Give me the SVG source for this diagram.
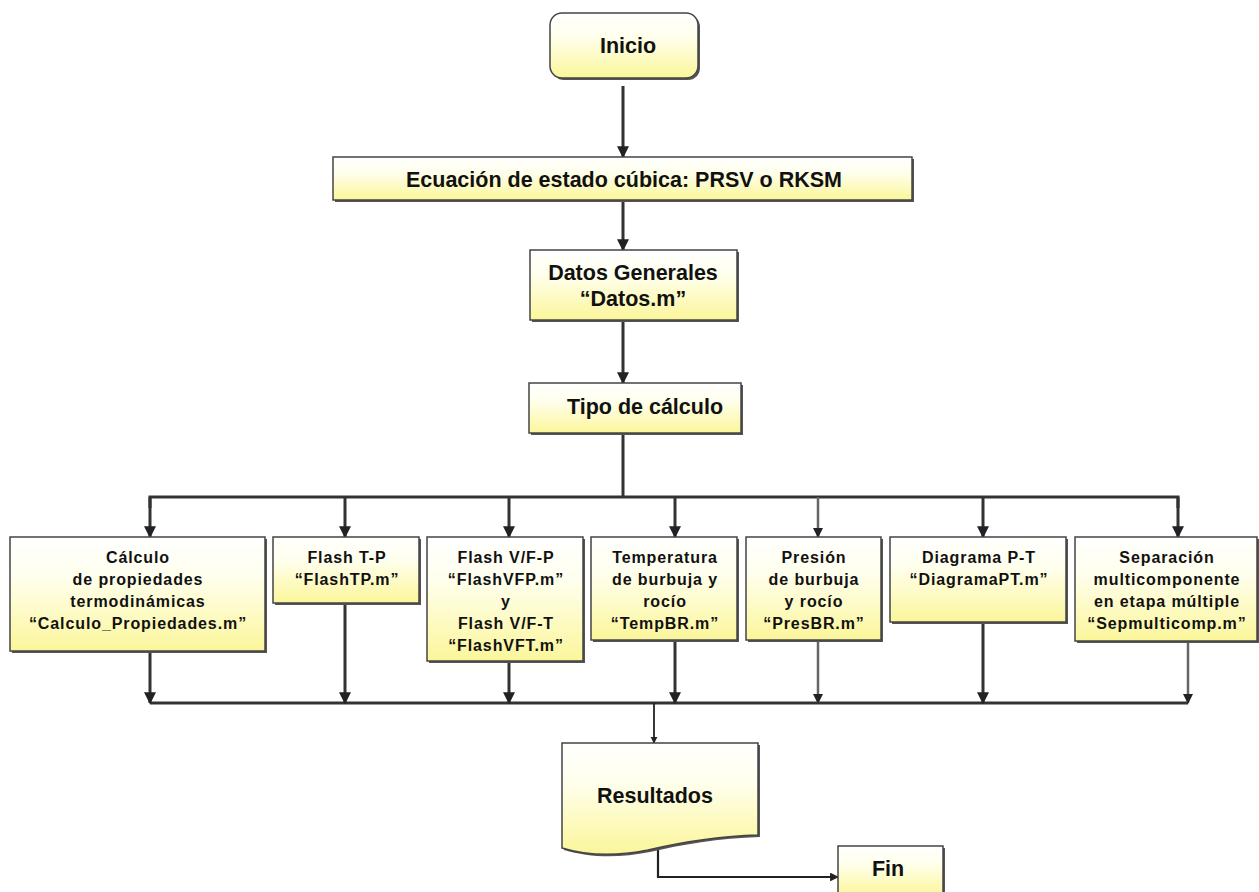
<svg xmlns="http://www.w3.org/2000/svg" width="1259" height="892" viewBox="0 0 1259 892">
<defs>
<linearGradient id="yg" x1="0" y1="0" x2="0" y2="1">
<stop offset="0" stop-color="#ffffff"/>
<stop offset="0.35" stop-color="#ffffee"/>
<stop offset="1" stop-color="#fbf69a"/>
</linearGradient>
<marker id="ah" viewBox="0 0 10 10" refX="9" refY="5" markerWidth="4" markerHeight="4" orient="auto" markerUnits="strokeWidth">
<path d="M0,0 L10,5 L0,10 z" fill="#222"/>
</marker>
</defs>
<style>
.box{fill:url(#yg);stroke:#444;stroke-width:1.5}
.sh{fill:#555}
.t{font-family:"Liberation Sans",Arial,sans-serif;font-weight:bold;fill:#111;text-anchor:middle}
.big{font-size:21.5px}
.sm{font-size:16px;letter-spacing:0.9px}
.c{fill:none;stroke:#333;stroke-width:3}
.ca{fill:none;stroke:#333;stroke-width:3;marker-end:url(#ah)}
.cl{fill:none;stroke:#666;stroke-width:2.5;marker-end:url(#ah)}
.thin{fill:none;stroke:#222;stroke-width:1.8;marker-end:url(#ah)}
</style>
<rect width="1259" height="892" fill="#ffffff"/>

<g id="connectors">
<line class="ca" x1="623" y1="86" x2="623" y2="157"/>
<line class="ca" x1="623" y1="201" x2="623" y2="250"/>
<line class="ca" x1="623" y1="321" x2="623" y2="383"/>
<line class="c" x1="623" y1="434" x2="623" y2="497"/>
<polyline class="c" points="150,508 150,497 1178,497 1178,508"/>
<line class="ca" x1="150" y1="497" x2="150" y2="537"/>
<line class="ca" x1="345" y1="497" x2="345" y2="537"/>
<line class="ca" x1="509" y1="497" x2="509" y2="537"/>
<line class="ca" x1="675" y1="497" x2="675" y2="537"/>
<line class="cl" x1="818" y1="497" x2="818" y2="537"/>
<line class="ca" x1="983" y1="497" x2="983" y2="537"/>
<line class="ca" x1="1178" y1="497" x2="1178" y2="537"/>
<line class="c" x1="150" y1="703" x2="1188" y2="703"/>
<line class="ca" x1="150" y1="652" x2="150" y2="703"/>
<line class="ca" x1="345" y1="604" x2="345" y2="703"/>
<line class="ca" x1="509" y1="662" x2="509" y2="703"/>
<line class="ca" x1="675" y1="641" x2="675" y2="703"/>
<line class="cl" x1="818" y1="641" x2="818" y2="703"/>
<line class="ca" x1="983" y1="623" x2="983" y2="703"/>
<line class="cl" x1="1188" y1="642" x2="1188" y2="703"/>
<line class="thin" x1="654" y1="703" x2="654" y2="743"/>
<polyline class="thin" points="658,850 658,877 838,877" style="stroke-width:2.2"/>
</g>

<g id="inicio">
<rect x="552" y="15" width="148" height="65" rx="12" class="sh"/>
<rect x="550" y="13" width="148" height="65" rx="12" class="box"/>
<text class="t big" x="628" y="53">Inicio</text>
</g>

<g id="ecuacion">
<rect x="335" y="159" width="579" height="43" class="sh"/>
<rect x="333" y="157" width="579" height="43" class="box"/>
<text class="t big" x="624" y="187">Ecuación de estado cúbica: PRSV o RKSM</text>
</g>

<g id="datos">
<rect x="532" y="252" width="207" height="70" class="sh"/>
<rect x="530" y="250" width="207" height="70" class="box"/>
<text class="t big" x="633" y="280">Datos Generales</text>
<text class="t big" x="633" y="306">“Datos.m”</text>
</g>

<g id="tipo">
<rect x="531" y="385" width="212" height="50" class="sh"/>
<rect x="529" y="383" width="212" height="50" class="box"/>
<text class="t big" x="645" y="414">Tipo de cálculo</text>
</g>

<g id="calculo">
<rect x="12" y="539" width="255" height="114" class="sh"/>
<rect x="10" y="537" width="255" height="114" class="box"/>
<text class="t sm" x="138" y="563">Cálculo</text>
<text class="t sm" x="138" y="585">de propiedades</text>
<text class="t sm" x="138" y="607">termodinámicas</text>
<text class="t sm" x="138" y="629">“Calculo_Propiedades.m”</text>
</g>

<g id="flashtp">
<rect x="275" y="539" width="146" height="66" class="sh"/>
<rect x="273" y="537" width="146" height="66" class="box"/>
<text class="t sm" x="347" y="563">Flash T-P</text>
<text class="t sm" x="347" y="585">“FlashTP.m”</text>
</g>

<g id="flashvf">
<rect x="429" y="539" width="156" height="124" class="sh"/>
<rect x="427" y="537" width="156" height="124" class="box"/>
<text class="t sm" x="506" y="563">Flash V/F-P</text>
<text class="t sm" x="506" y="585">“FlashVFP.m”</text>
<text class="t sm" x="506" y="607">y</text>
<text class="t sm" x="506" y="629">Flash V/F-T</text>
<text class="t sm" x="506" y="651">“FlashVFT.m”</text>
</g>

<g id="tempbr">
<rect x="593" y="539" width="146" height="103" class="sh"/>
<rect x="591" y="537" width="146" height="103" class="box"/>
<text class="t sm" x="665" y="563">Temperatura</text>
<text class="t sm" x="665" y="585">de burbuja y</text>
<text class="t sm" x="665" y="607">rocío</text>
<text class="t sm" x="665" y="629">“TempBR.m”</text>
</g>

<g id="presbr">
<rect x="748" y="539" width="135" height="103" class="sh"/>
<rect x="746" y="537" width="135" height="103" class="box"/>
<text class="t sm" x="814" y="563">Presión</text>
<text class="t sm" x="814" y="585">de burbuja</text>
<text class="t sm" x="814" y="607">y rocío</text>
<text class="t sm" x="814" y="629">“PresBR.m”</text>
</g>

<g id="diagrama">
<rect x="892" y="539" width="176" height="85" class="sh"/>
<rect x="890" y="537" width="176" height="85" class="box"/>
<text class="t sm" x="979" y="563">Diagrama P-T</text>
<text class="t sm" x="979" y="585">“DiagramaPT.m”</text>
</g>

<g id="separacion">
<rect x="1077" y="539" width="182" height="104" class="sh"/>
<rect x="1075" y="537" width="182" height="104" class="box"/>
<text class="t sm" x="1167" y="563">Separación</text>
<text class="t sm" x="1167" y="585">multicomponente</text>
<text class="t sm" x="1167" y="607">en etapa múltiple</text>
<text class="t sm" x="1167" y="629">“Sepmulticomp.m”</text>
</g>

<g id="resultados">
<path d="M564,745 H760 V837 C720,838 680,845 650,852 C620,858 590,858 564,850 Z" class="sh"/>
<path d="M562,743 H758 V835 C718,836 678,843 648,850 C618,856 588,856 562,848 Z" class="box"/>
<text class="t big" x="655" y="803">Resultados</text>
</g>

<g id="fin">
<rect x="840" y="848" width="105" height="50" class="sh"/>
<rect x="838" y="846" width="105" height="50" class="box"/>
<text class="t big" x="888" y="876">Fin</text>
</g>
</svg>
